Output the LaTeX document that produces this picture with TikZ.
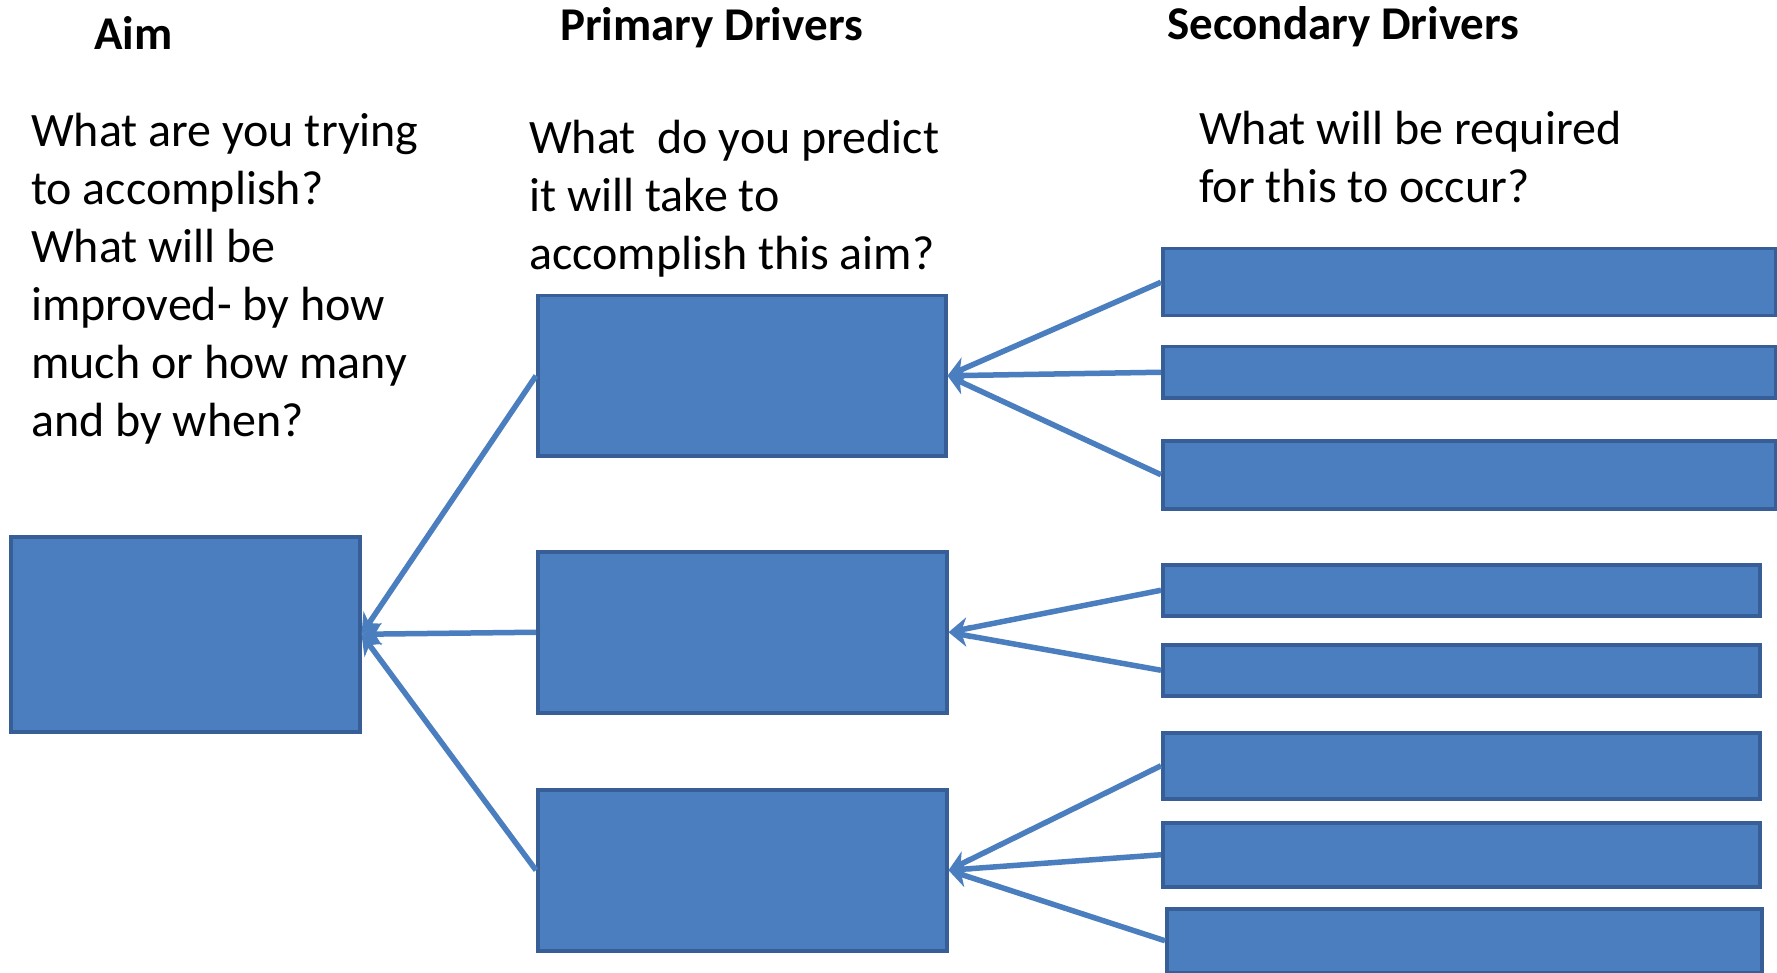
\documentclass[tikz,border=0pt]{standalone}
\usepackage{fontspec}
\setmainfont{Carlito}
\usetikzlibrary{arrows.meta}
\definecolor{boxfill}{HTML}{4A7EBE}
\definecolor{boxline}{HTML}{375E97}
\definecolor{connc}{HTML}{4A7EBE}
\begin{document}
\begin{tikzpicture}[x=1pt,y=-1pt,
  box/.style={draw=boxline, fill=boxfill, line width=3.5pt, inner sep=0pt, anchor=north west},
  conn/.style={draw=connc, line width=5.5pt, -{Stealth[length=20pt,width=22pt]}},
  title/.style={font=\fontsize{47}{56}\selectfont\bfseries, anchor=base west, inner sep=0pt},
  question/.style={font=\fontsize{48}{58}\selectfont, align=left, anchor=north west, inner sep=0pt}]
\useasboundingbox[fill=white] (0,0) rectangle (1777,973);

% titles
\node[title] (taim) at (94,50) {Aim};
\node[title] (tprim) at (560,41) {Primary Drivers};
\node[title] (tsec) at (1167,40) {Secondary Drivers};

% questions
\node[question] (qaim) at (31,113) {What are you trying\\to accomplish?\\What will be\\improved- by how\\much or how many\\and by when?};
\node[question] (qprim) at (529,120) {What\ \ do you predict\\it will take to\\accomplish this aim?};
\node[question] (qsec) at (1199,111) {What will be required\\for this to occur?};

% aim box
\node[box, minimum width=349pt, minimum height=195pt] (aim) at (9,535) {};

% primary boxes
\node[box, minimum width=408pt, minimum height=160pt] (p1) at (536,294) {};
\node[box, minimum width=409pt, minimum height=161pt] (p2) at (536,550) {};
\node[box, minimum width=409pt, minimum height=161pt] (p3) at (536,788) {};

% secondary boxes
\node[box, minimum width=613pt, minimum height=67pt] (s1) at (1161,247) {};
\node[box, minimum width=613pt, minimum height=51pt] (s2) at (1161,345) {};
\node[box, minimum width=613pt, minimum height=68pt] (s3) at (1161,439) {};
\node[box, minimum width=597pt, minimum height=51pt] (s4) at (1161,563) {};
\node[box, minimum width=597pt, minimum height=51pt] (s5) at (1161,643) {};
\node[box, minimum width=597pt, minimum height=66pt] (s6) at (1161,731) {};
\node[box, minimum width=597pt, minimum height=64pt] (s7) at (1161,821) {};
\node[box, minimum width=595pt, minimum height=64pt] (s8) at (1165,907) {};

% connectors to aim
\draw[conn] (p1.west) -- (aim.east);
\draw[conn] (p2.west) -- (aim.east);
\draw[conn] (p3.west) -- (aim.east);

% connectors to primary
\draw[conn] (s1.west) -- (p1.east);
\draw[conn] (s2.west) -- (p1.east);
\draw[conn] (s3.west) -- (p1.east);
\draw[conn] (s4.west) -- (p2.east);
\draw[conn] (s5.west) -- (p2.east);
\draw[conn] (s6.west) -- (p3.east);
\draw[conn] (s7.west) -- (p3.east);
\draw[conn] (s8.west) -- (p3.east);
\end{tikzpicture}
\end{document}
